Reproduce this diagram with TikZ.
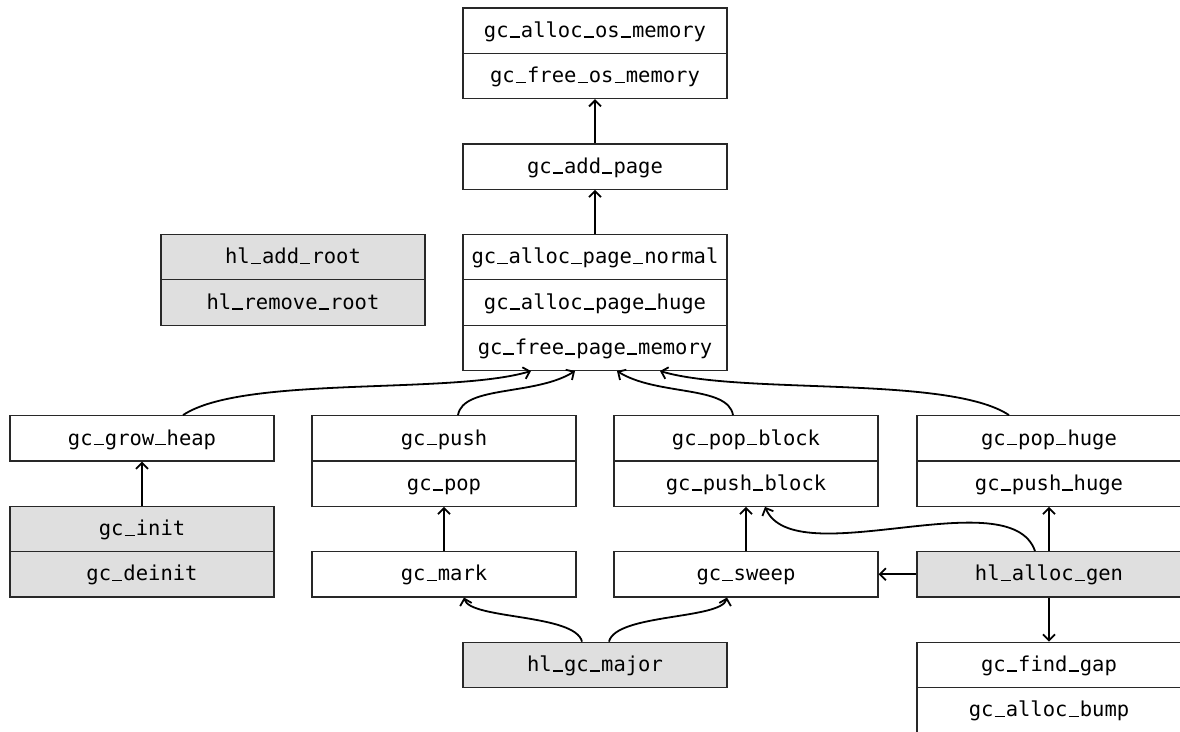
\documentclass[tikz,border=0pt]{standalone}
\usepackage{fontspec}
\setmonofont{DejaVu Sans Mono}
\usetikzlibrary{arrows.meta}
\definecolor{rootfill}{RGB}{223,223,223}
\definecolor{edgeline}{RGB}{40,40,40}
% underscore drawn on the baseline, one character cell wide
\newcommand\us{\makebox[0.602em]{\rule[-0.4pt]{0.5em}{1.5pt}}}
\begin{document}
\begin{tikzpicture}[x=1pt,y=-1pt,
  fn/.style={draw=edgeline, line width=1.2pt, minimum width=264pt, minimum height=45.3pt,
    inner sep=0pt, text height=18pt, text depth=4.6pt,
    font=\ttfamily\fontsize{20.5}{24}\selectfont},
  root/.style={fn, fill=rootfill},
  call/.style={line width=1.8pt, draw=black, -{Straight Barb[length=6pt,width=12pt]}}]
\clip (0,0) rectangle (1180,731);
\useasboundingbox (0,0) rectangle (1180,731);
\fill[white] (0,0) rectangle (1180,731);

% OS memory layer
\node[fn] (osalloc) at (595,30.65) {gc\us alloc\us os\us memory};
\node[fn] (osfree) at (595,75.95) {gc\us free\us os\us memory};
\node[fn] (addpage) at (595,166.55) {gc\us add\us page};

% page layer
\node[fn] (pgnormal) at (595,257.15) {gc\us alloc\us page\us normal};
\node[fn] (pghuge) at (595,302.45) {gc\us alloc\us page\us huge};
\node[fn] (pgfree) at (595,347.75) {gc\us free\us page\us memory};

% roots
\node[root] (addroot) at (293,257.15) {hl\us add\us root};
\node[root] (rmroot) at (293,302.45) {hl\us remove\us root};

% block layer
\node[fn] (growheap) at (142,438.35) {gc\us grow\us heap};
\node[fn] (push) at (444,438.35) {gc\us push};
\node[fn] (pop) at (444,483.65) {gc\us pop};
\node[fn] (popblock) at (746,438.35) {gc\us pop\us block};
\node[fn] (pushblock) at (746,483.65) {gc\us push\us block};
\node[fn] (pophuge) at (1049,438.35) {gc\us pop\us huge};
\node[fn] (pushhuge) at (1049,483.65) {gc\us push\us huge};

% entry points and collectors
\node[root] (init) at (142,528.95) {gc\us init};
\node[root] (deinit) at (142,574.25) {gc\us deinit};
\node[fn] (mark) at (444,574.25) {gc\us mark};
\node[fn] (sweep) at (746,574.25) {gc\us sweep};
\node[root] (allocgen) at (1049,574.25) {hl\us alloc\us gen};
\node[root] (gcmajor) at (595,664.85) {hl\us gc\us major};
\node[fn] (findgap) at (1049,664.85) {gc\us find\us gap};
\node[fn] (allocbump) at (1049,710.15) {gc\us alloc\us bump};

% straight calls
\draw[call] (addpage.north) -- (osfree.south);
\draw[call] (pgnormal.north) -- (addpage.south);
\draw[call] (init.north) -- (growheap.south);
\draw[call] (mark.north) -- (pop.south);
\draw[call] (sweep.north) -- (pushblock.south);
\draw[call] (allocgen.north) -- (pushhuge.south);
\draw[call] (allocgen.west) -- (sweep.east);
\draw[call] (allocgen.south) -- (findgap.north);

% curved calls into the page layer
\draw[call] ([xshift=41pt]growheap.north) .. controls +(60,-40) and +(-81,24) .. ([xshift=-64pt]pgfree.south);
\draw[call] ([xshift=14pt]push.north) .. controls +(5,-30) and +(-40,25) .. ([xshift=-20pt]pgfree.south);
\draw[call] ([xshift=-13pt]popblock.north) .. controls +(-5,-30) and +(40,25) .. ([xshift=22pt]pgfree.south);
\draw[call] ([xshift=-40pt]pophuge.north) .. controls +(-60,-40) and +(81,24) .. ([xshift=65pt]pgfree.south);

% curved calls from the allocators and the collector
\draw[call] ([xshift=-14pt]allocgen.north) .. controls +(-25,-72) and +(29.5,68) .. ([xshift=19pt]pushblock.south);
\draw[call] ([xshift=-13pt]gcmajor.north) .. controls +(-7,-28) and +(6,22) .. ([xshift=20pt]mark.south);
\draw[call] ([xshift=14pt]gcmajor.north) .. controls +(7,-28) and +(-6,22) .. ([xshift=-19pt]sweep.south);
\end{tikzpicture}
\end{document}
